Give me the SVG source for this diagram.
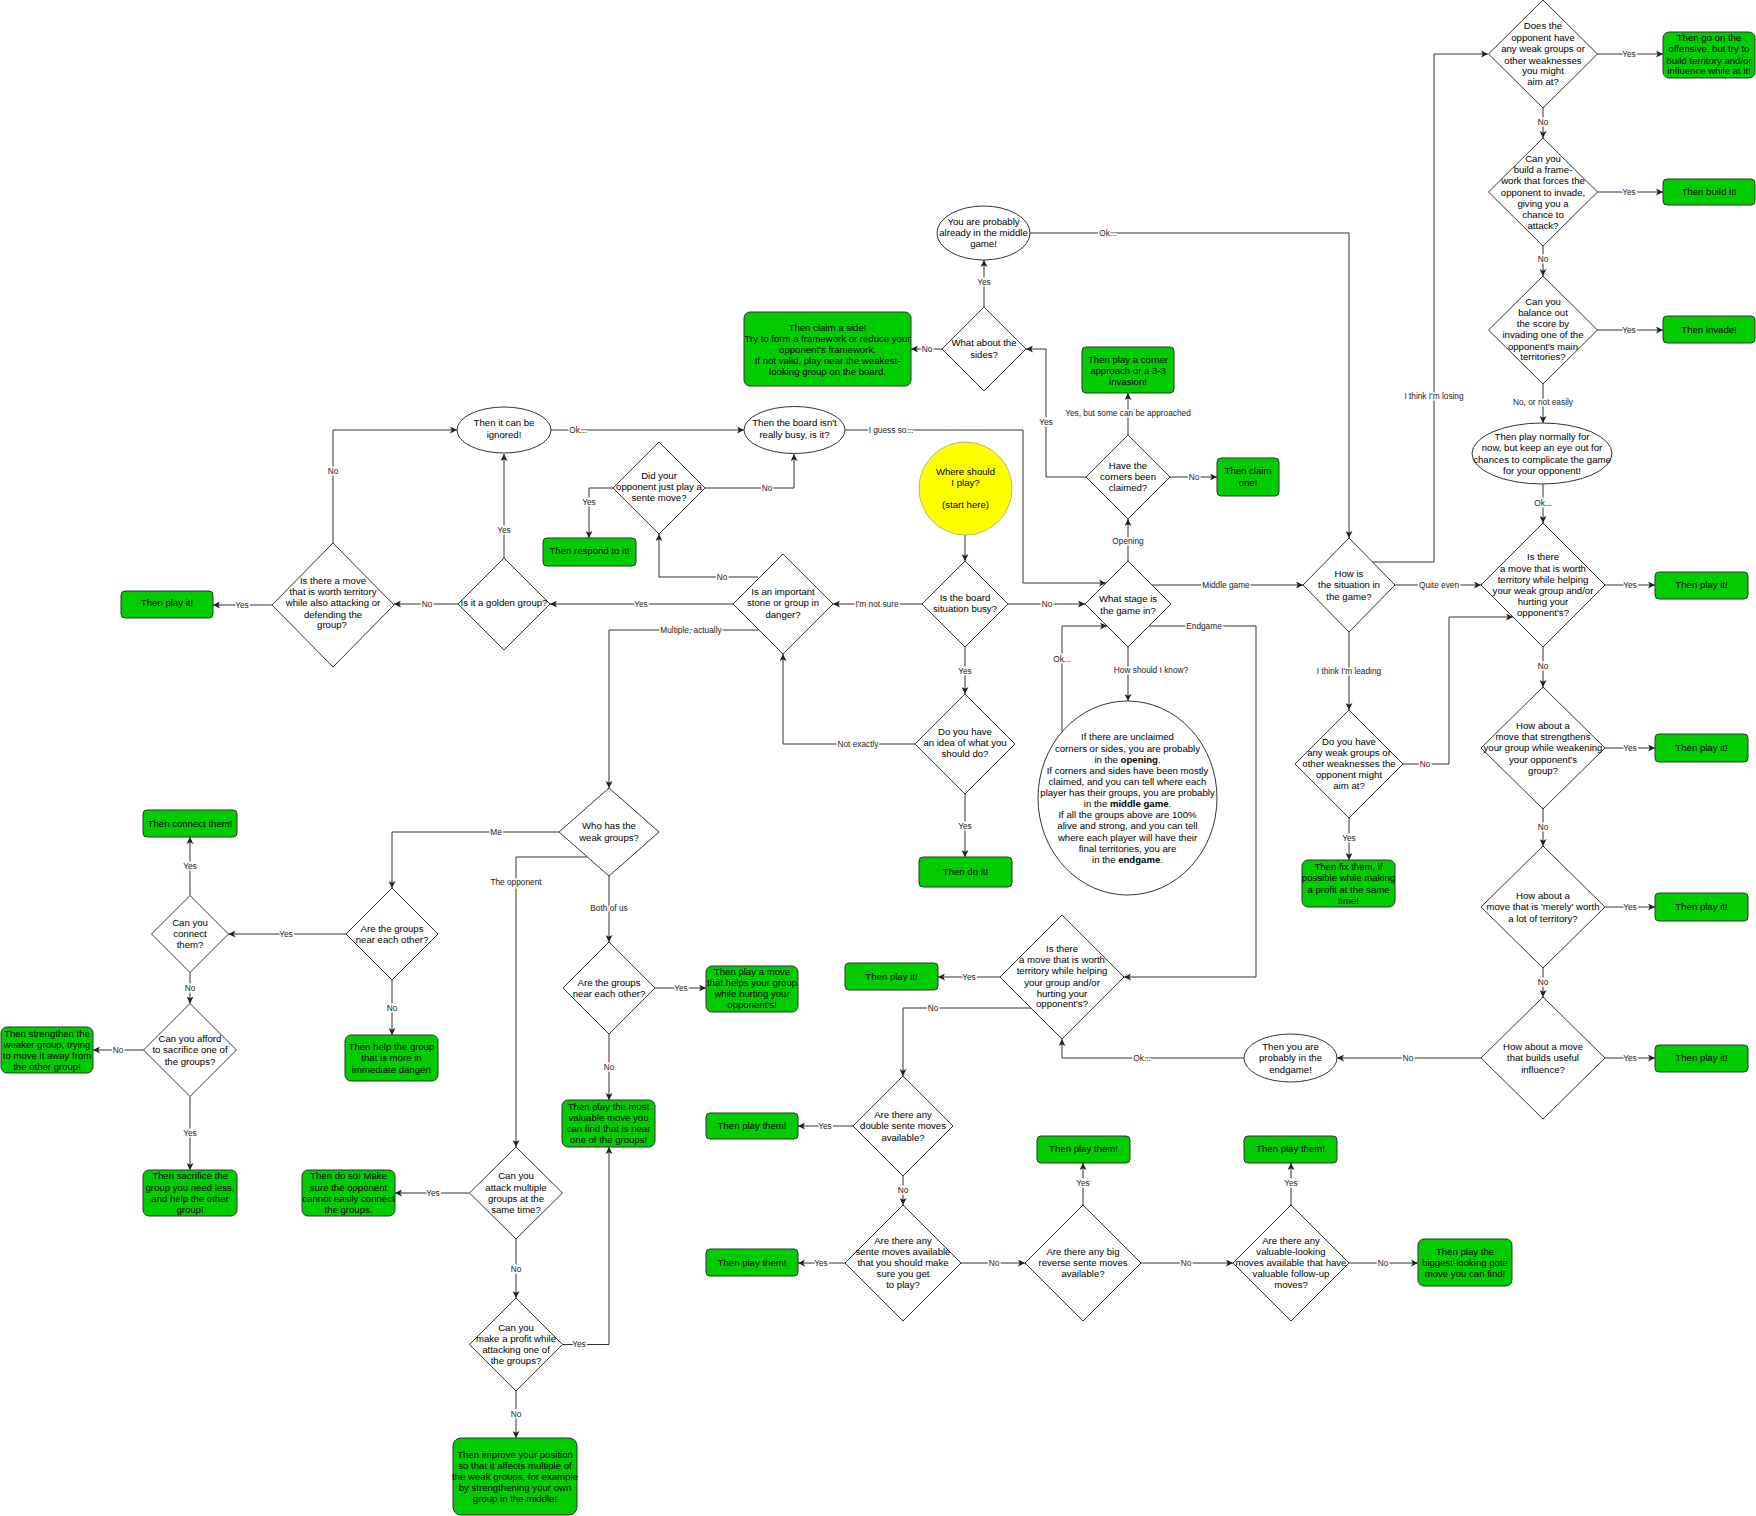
<svg xmlns="http://www.w3.org/2000/svg" width="1756" height="1516" viewBox="0 0 1756 1516">
<defs>
<marker id="a" viewBox="0 0 10 10" refX="10" refY="5" markerWidth="7" markerHeight="7" markerUnits="userSpaceOnUse" orient="auto"><path d="M0,0 L10,5 L0,10 L2.5,5 z" fill="#222"/></marker>
<style>
.d,.o{fill:#fff;stroke:#333;stroke-width:1}
.g{fill:#00cc00;stroke:#333;stroke-width:1}
.y{fill:#ffff00;stroke:#b8b870;stroke-width:1}
text{font-family:"Liberation Sans",Arial,Helvetica,sans-serif;text-anchor:middle}
.t{font-size:9.6px;fill:#000}
.c path{fill:none;stroke:#333;stroke-width:1;marker-end:url(#a)}
.c rect{fill:#fff}
.c text{font-size:8.3px;fill:#222}
</style>
</defs>
<rect width="1756" height="1516" fill="#fff"/>

<g class="c" id="connectors">
<path d="M922,604 H833"/><text x="877" y="607" style="paint-order:stroke;stroke:#fff;stroke-width:3px">I'm not sure</text>
<path d="M965,535 V561"/>
<path d="M1008,604 H1085"/><text x="1047" y="607" style="paint-order:stroke;stroke:#fff;stroke-width:3px">No</text>
<path d="M965,647 V694"/><text x="965" y="674" style="paint-order:stroke;stroke:#fff;stroke-width:3px">Yes</text>
<path d="M965,794 V857"/><text x="965" y="829" style="paint-order:stroke;stroke:#fff;stroke-width:3px">Yes</text>
<path d="M915,744 H783 V654"/><text x="858" y="747" style="paint-order:stroke;stroke:#fff;stroke-width:3px">Not exactly</text>
<path d="M733,604 H550"/><text x="641" y="607" style="paint-order:stroke;stroke:#fff;stroke-width:3px">Yes</text>
<path d="M758,577 H659 V534"/><text x="722" y="580" style="paint-order:stroke;stroke:#fff;stroke-width:3px">No</text>
<path d="M758,630 H609 V788"/><text x="691" y="633" style="paint-order:stroke;stroke:#fff;stroke-width:3px">Multiple, actually</text>
<path d="M504,558 V454"/><text x="504" y="533" style="paint-order:stroke;stroke:#fff;stroke-width:3px">Yes</text>
<path d="M458,604 H394"/><text x="427" y="607" style="paint-order:stroke;stroke:#fff;stroke-width:3px">No</text>
<path d="M333,543 V430 H457"/><text x="333" y="474" style="paint-order:stroke;stroke:#fff;stroke-width:3px">No</text>
<path d="M272,605 H213"/><text x="242" y="608" style="paint-order:stroke;stroke:#fff;stroke-width:3px">Yes</text>
<path d="M551,430 H744"/><text x="578" y="433" style="paint-order:stroke;stroke:#fff;stroke-width:3px">Ok...</text>
<path d="M705,488 H794 V454"/><text x="767" y="491" style="paint-order:stroke;stroke:#fff;stroke-width:3px">No</text>
<path d="M613,488 H589 V538"/><text x="589" y="505" style="paint-order:stroke;stroke:#fff;stroke-width:3px">Yes</text>
<path d="M845,430 H1023 V583 H1106"/><text x="891" y="433" style="paint-order:stroke;stroke:#fff;stroke-width:3px">I guess so...</text>
<path d="M1128,561 V519"/><text x="1128" y="544" style="paint-order:stroke;stroke:#fff;stroke-width:3px">Opening</text>
<path d="M1128,435 V393"/><text x="1128" y="416" style="paint-order:stroke;stroke:#fff;stroke-width:3px">Yes, but some can be approached</text>
<path d="M1170,477 H1217"/><text x="1194" y="480" style="paint-order:stroke;stroke:#fff;stroke-width:3px">No</text>
<path d="M1086,477 H1046 V349 H1026"/><text x="1046" y="425" style="paint-order:stroke;stroke:#fff;stroke-width:3px">Yes</text>
<path d="M942,349 H911"/><text x="927" y="352" style="paint-order:stroke;stroke:#fff;stroke-width:3px">No</text>
<path d="M984,307 V260"/><text x="984" y="285" style="paint-order:stroke;stroke:#fff;stroke-width:3px">Yes</text>
<path d="M1030,233 H1349 V538"/><text x="1108" y="236" style="paint-order:stroke;stroke:#fff;stroke-width:3px">Ok...</text>
<path d="M1152,585 H1303"/><text x="1226" y="588" style="paint-order:stroke;stroke:#fff;stroke-width:3px">Middle game</text>
<path d="M1149,626 H1256 V977 H1124"/><text x="1204" y="629" style="paint-order:stroke;stroke:#fff;stroke-width:3px">Endgame</text>
<path d="M1128,647 V701"/><text x="1151" y="673" style="paint-order:stroke;stroke:#fff;stroke-width:3px">How should I know?</text>
<path d="M1062,732 V626 H1107"/><text x="1062" y="662" style="paint-order:stroke;stroke:#fff;stroke-width:3px">Ok...</text>
<path d="M1372,562 H1434 V54 H1488"/><text x="1434" y="399" style="paint-order:stroke;stroke:#fff;stroke-width:3px">I think I'm losing</text>
<path d="M1395,585 H1481"/><text x="1439" y="588" style="paint-order:stroke;stroke:#fff;stroke-width:3px">Quite even</text>
<path d="M1349,632 V710"/><text x="1349" y="674" style="paint-order:stroke;stroke:#fff;stroke-width:3px">I think I'm leading</text>
<path d="M1403,764 H1449 V617 H1513"/><text x="1425" y="767" style="paint-order:stroke;stroke:#fff;stroke-width:3px">No</text>
<path d="M1349,818 V860"/><text x="1349" y="841" style="paint-order:stroke;stroke:#fff;stroke-width:3px">Yes</text>
<path d="M1597,54 H1663"/><text x="1629" y="57" style="paint-order:stroke;stroke:#fff;stroke-width:3px">Yes</text>
<path d="M1543,108 V138"/><text x="1543" y="125" style="paint-order:stroke;stroke:#fff;stroke-width:3px">No</text>
<path d="M1597,192 H1663"/><text x="1629" y="195" style="paint-order:stroke;stroke:#fff;stroke-width:3px">Yes</text>
<path d="M1543,246 V276"/><text x="1543" y="262" style="paint-order:stroke;stroke:#fff;stroke-width:3px">No</text>
<path d="M1597,330 H1663"/><text x="1629" y="333" style="paint-order:stroke;stroke:#fff;stroke-width:3px">Yes</text>
<path d="M1543,384 V423"/><text x="1543" y="405" style="paint-order:stroke;stroke:#fff;stroke-width:3px">No, or not easily</text>
<path d="M1543,484 V523"/><text x="1543" y="506" style="paint-order:stroke;stroke:#fff;stroke-width:3px">Ok...</text>
<path d="M1605,585 H1655"/><text x="1630" y="588" style="paint-order:stroke;stroke:#fff;stroke-width:3px">Yes</text>
<path d="M1543,647 V687"/><text x="1543" y="669" style="paint-order:stroke;stroke:#fff;stroke-width:3px">No</text>
<path d="M1605,748 H1655"/><text x="1630" y="751" style="paint-order:stroke;stroke:#fff;stroke-width:3px">Yes</text>
<path d="M1543,809 V846"/><text x="1543" y="830" style="paint-order:stroke;stroke:#fff;stroke-width:3px">No</text>
<path d="M1605,907 H1655"/><text x="1630" y="910" style="paint-order:stroke;stroke:#fff;stroke-width:3px">Yes</text>
<path d="M1543,968 V997"/><text x="1543" y="985" style="paint-order:stroke;stroke:#fff;stroke-width:3px">No</text>
<path d="M1605,1058 H1655"/><text x="1630" y="1061" style="paint-order:stroke;stroke:#fff;stroke-width:3px">Yes</text>
<path d="M1481,1058 H1337"/><text x="1408" y="1061" style="paint-order:stroke;stroke:#fff;stroke-width:3px">No</text>
<path d="M1244,1058 H1062 V1039"/><text x="1142" y="1061" style="paint-order:stroke;stroke:#fff;stroke-width:3px">Ok...</text>
<path d="M1000,977 H938"/><text x="969" y="980" style="paint-order:stroke;stroke:#fff;stroke-width:3px">Yes</text>
<path d="M1031,1008 H903 V1076"/><text x="933" y="1011" style="paint-order:stroke;stroke:#fff;stroke-width:3px">No</text>
<path d="M853,1126 H798"/><text x="825" y="1129" style="paint-order:stroke;stroke:#fff;stroke-width:3px">Yes</text>
<path d="M903,1176 V1205"/><text x="903" y="1193" style="paint-order:stroke;stroke:#fff;stroke-width:3px">No</text>
<path d="M845,1263 H798"/><text x="821" y="1266" style="paint-order:stroke;stroke:#fff;stroke-width:3px">Yes</text>
<path d="M961,1263 H1025"/><text x="994" y="1266" style="paint-order:stroke;stroke:#fff;stroke-width:3px">No</text>
<path d="M1083,1205 V1163"/><text x="1083" y="1186" style="paint-order:stroke;stroke:#fff;stroke-width:3px">Yes</text>
<path d="M1141,1263 H1233"/><text x="1186" y="1266" style="paint-order:stroke;stroke:#fff;stroke-width:3px">No</text>
<path d="M1291,1205 V1163"/><text x="1291" y="1186" style="paint-order:stroke;stroke:#fff;stroke-width:3px">Yes</text>
<path d="M1349,1263 H1418"/><text x="1383" y="1266" style="paint-order:stroke;stroke:#fff;stroke-width:3px">No</text>
<path d="M559,832 H392 V888"/><text x="496" y="835" style="paint-order:stroke;stroke:#fff;stroke-width:3px">Me</text>
<path d="M587,857 H516 V1147"/><text x="516" y="885" style="paint-order:stroke;stroke:#fff;stroke-width:3px">The opponent</text>
<path d="M609,876 V942"/><text x="609" y="911" style="paint-order:stroke;stroke:#fff;stroke-width:3px">Both of us</text>
<path d="M655,988 H706"/><text x="681" y="991" style="paint-order:stroke;stroke:#fff;stroke-width:3px">Yes</text>
<path d="M609,1034 V1100"/><text x="609" y="1070" style="paint-order:stroke;stroke:#fff;stroke-width:3px">No</text>
<path d="M346,934 H228.5"/><text x="286" y="937" style="paint-order:stroke;stroke:#fff;stroke-width:3px">Yes</text>
<path d="M392,980 V1035"/><text x="392" y="1011" style="paint-order:stroke;stroke:#fff;stroke-width:3px">No</text>
<path d="M190,895.5 V837"/><text x="190" y="869" style="paint-order:stroke;stroke:#fff;stroke-width:3px">Yes</text>
<path d="M190,972.5 V1003.5"/><text x="190" y="991" style="paint-order:stroke;stroke:#fff;stroke-width:3px">No</text>
<path d="M143.5,1050 H93"/><text x="118" y="1053" style="paint-order:stroke;stroke:#fff;stroke-width:3px">No</text>
<path d="M190,1096.5 V1170"/><text x="190" y="1136" style="paint-order:stroke;stroke:#fff;stroke-width:3px">Yes</text>
<path d="M469.5,1193 H395"/><text x="433" y="1196" style="paint-order:stroke;stroke:#fff;stroke-width:3px">Yes</text>
<path d="M516,1239 V1298"/><text x="516" y="1272" style="paint-order:stroke;stroke:#fff;stroke-width:3px">No</text>
<path d="M562.5,1344.5 H609 V1147"/><text x="579" y="1347" style="paint-order:stroke;stroke:#fff;stroke-width:3px">Yes</text>
<path d="M516,1391 V1438"/><text x="516" y="1417" style="paint-order:stroke;stroke:#fff;stroke-width:3px">No</text>
</g>

<g id="start"><circle class="y" cx="965.5" cy="488.5" r="46.5"/><text class="t"><tspan x="965.5" y="475">Where should</tspan><tspan x="965.5" y="486.3">I play?</tspan><tspan x="965.5" y="508.3">(start here)</tspan></text></g>

<g id="busy"><polygon class="d" points="965,561 1008,604 965,647 922,604"/><text class="t"><tspan x="965" y="600.6">Is the board</tspan><tspan x="965" y="612.3">situation busy?</tspan></text></g>
<g id="stage"><polygon class="d" points="1128,561 1171,604 1128,647 1085,604"/><text class="t"><tspan x="1128" y="602.3">What stage is</tspan><tspan x="1128" y="614">the game in?</tspan></text></g>
<g id="important"><polygon class="d" points="783,554 833,604 783,654 733,604"/><text class="t"><tspan x="783" y="595.3">Is an important</tspan><tspan x="783" y="606.3">stone or group in</tspan><tspan x="783" y="617.6">danger?</tspan></text></g>
<g id="golden"><polygon class="d" points="504,558 550,604 504,650 458,604"/><text class="t"><tspan x="504" y="606.3">Is it a golden group?</tspan></text></g>
<g id="territory"><polygon class="d" points="333,543 394,605 333,667 272,605"/><text class="t"><tspan x="333" y="584.3">Is there a move</tspan><tspan x="333" y="595.3">that is worth territory</tspan><tspan x="333" y="606.3">while also attacking or</tspan><tspan x="333" y="617.6">defending the</tspan><tspan x="332" y="628.3">group?</tspan></text></g>
<g id="playit1"><rect class="g" x="121" y="591" width="92" height="27" rx="4"/><text class="t"><tspan x="167" y="606">Then play it!</tspan></text></g>
<g id="ignored"><ellipse class="o" cx="504" cy="430" rx="47" ry="23"/><text class="t"><tspan x="504" y="426">Then it can be</tspan><tspan x="504" y="438">ignored!</tspan></text></g>
<g id="notbusy"><ellipse class="o" cx="794.5" cy="430" rx="50.5" ry="23.5"/><text class="t"><tspan x="794.5" y="426">Then the board isn't</tspan><tspan x="794.5" y="438">really busy, is it?</tspan></text></g>
<g id="sente"><polygon class="d" points="659,442 705,488 659,534 613,488"/><text class="t"><tspan x="659" y="479">Did your</tspan><tspan x="659" y="490">opponent just play a</tspan><tspan x="659" y="501">sente move?</tspan></text></g>
<g id="respond"><rect class="g" x="543" y="538" width="93" height="28" rx="4"/><text class="t"><tspan x="589.5" y="554">Then respond to it!</tspan></text></g>
<g id="claimside"><rect class="g" x="744" y="312" width="167" height="74" rx="6"/><text class="t"><tspan x="827.5" y="330.5">Then claim a side!</tspan><tspan x="827.5" y="341.5">Try to form a framework or reduce your</tspan><tspan x="827.5" y="352.5">opponent's framework.</tspan><tspan x="827.5" y="363.5">If not valid, play near the weakest-</tspan><tspan x="827.5" y="374.5">looking group on the board.</tspan></text></g>
<g id="sides"><polygon class="d" points="984,307 1026,349 984,391 942,349"/><text class="t"><tspan x="984" y="346.3">What about the</tspan><tspan x="984" y="358">sides?</tspan></text></g>
<g id="middle"><ellipse class="o" cx="983.5" cy="233" rx="46.5" ry="27"/><text class="t"><tspan x="983.5" y="224.6">You are probably</tspan><tspan x="983.5" y="235.6">already in the middle</tspan><tspan x="983.5" y="247">game!</tspan></text></g>
<g id="corners"><polygon class="d" points="1128,435 1170,477 1128,519 1086,477"/><text class="t"><tspan x="1128" y="468.6">Have the</tspan><tspan x="1128" y="480">corners been</tspan><tspan x="1128" y="491.3">claimed?</tspan></text></g>
<g id="approach"><rect class="g" x="1082" y="347" width="92" height="46" rx="4"/><text class="t"><tspan x="1128" y="362.6">Then play a corner</tspan><tspan x="1128" y="373.6">approach or a 3-3</tspan><tspan x="1128" y="385">invasion!</tspan></text></g>
<g id="claimone"><rect class="g" x="1217" y="458" width="62" height="38" rx="4"/><text class="t"><tspan x="1248" y="474.3">Then claim</tspan><tspan x="1248" y="485.6">one!</tspan></text></g>
<g id="idea"><polygon class="d" points="965,694 1015,744 965,794 915,744"/><text class="t"><tspan x="965" y="734.6">Do you have</tspan><tspan x="965" y="745.6">an idea of what you</tspan><tspan x="965" y="757">should do?</tspan></text></g>
<g id="doit"><rect class="g" x="919" y="857" width="93" height="30" rx="4"/><text class="t"><tspan x="965.5" y="875">Then do it!</tspan></text></g>
<g id="howknow"><ellipse class="o" cx="1127.5" cy="798" rx="89.5" ry="97"/><text class="t"><tspan x="1127.5" y="740">If there are unclaimed</tspan><tspan x="1127.5" y="751.6">corners or sides, you are probably</tspan><tspan x="1127.5" y="762.6">in the <tspan font-weight="bold">opening</tspan>.</tspan><tspan x="1127.5" y="773.6">If corners and sides have been mostly</tspan><tspan x="1127.5" y="785">claimed, and you can tell where each</tspan><tspan x="1127.5" y="796">player has their groups, you are probably</tspan><tspan x="1127.5" y="807.3">in the <tspan font-weight="bold">middle game</tspan>.</tspan><tspan x="1127.5" y="818.3">If all the groups above are 100%</tspan><tspan x="1127.5" y="829.3">alive and strong, and you can tell</tspan><tspan x="1127.5" y="840.6">where each player will have their</tspan><tspan x="1127.5" y="851.6">final territories, you are</tspan><tspan x="1127.5" y="862.6">in the <tspan font-weight="bold">endgame</tspan>.</tspan></text></g>

<g id="situation"><polygon class="d" points="1349,538 1395,585 1349,632 1303,585"/><text class="t"><tspan x="1349" y="577.3">How is</tspan><tspan x="1349" y="588.3">the situation in</tspan><tspan x="1349" y="599.6">the game?</tspan></text></g>
<g id="leading"><polygon class="d" points="1349,710 1403,764 1349,818 1295,764"/><text class="t"><tspan x="1349" y="744.6">Do you have</tspan><tspan x="1349" y="755.6">any weak groups or</tspan><tspan x="1349" y="766.6">other weaknesses the</tspan><tspan x="1349" y="778">opponent might</tspan><tspan x="1349" y="789">aim at?</tspan></text></g>
<g id="fix"><rect class="g" x="1302" y="860" width="93" height="47" rx="6"/><text class="t"><tspan x="1348.5" y="870">Then fix them, if</tspan><tspan x="1348.5" y="881">possible while making</tspan><tspan x="1348.5" y="892.6">a profit at the same</tspan><tspan x="1348.5" y="903.6">time!</tspan></text></g>
<g id="does"><polygon class="d" points="1543,0 1597.5,54 1543,108 1488.5,54"/><text class="t"><tspan x="1543" y="29.3">Does the</tspan><tspan x="1543" y="41">opponent have</tspan><tspan x="1543" y="52">any weak groups or</tspan><tspan x="1543" y="63.6">other weaknesses</tspan><tspan x="1543" y="74.3">you might</tspan><tspan x="1543" y="85.3">aim at?</tspan></text></g>
<g id="offensive"><rect class="g" x="1663" y="32" width="92" height="46" rx="6"/><text class="t"><tspan x="1709" y="41">Then go on the</tspan><tspan x="1709" y="52">offensive, but try to</tspan><tspan x="1709" y="63.6">build territory and/or</tspan><tspan x="1709" y="74.3">influence while at it!</tspan></text></g>
<g id="framework"><polygon class="d" points="1543,138 1597.5,192 1543,246 1488.5,192"/><text class="t"><tspan x="1543" y="162">Can you</tspan><tspan x="1543" y="173.3">build a frame-</tspan><tspan x="1543" y="184.3">work that forces the</tspan><tspan x="1543" y="195.6">opponent to invade,</tspan><tspan x="1543" y="206.6">giving you a</tspan><tspan x="1543" y="217.6">chance to</tspan><tspan x="1543" y="228.6">attack?</tspan></text></g>
<g id="build"><rect class="g" x="1663" y="179" width="92" height="26" rx="4"/><text class="t"><tspan x="1709" y="195.3">Then build it!</tspan></text></g>
<g id="balance"><polygon class="d" points="1543,276 1597.5,330 1543,384 1488.5,330"/><text class="t"><tspan x="1543" y="304.6">Can you</tspan><tspan x="1543" y="316">balance out</tspan><tspan x="1543" y="327">the score by</tspan><tspan x="1543" y="338.3">invading one of the</tspan><tspan x="1543" y="349.6">opponent's main</tspan><tspan x="1543" y="360.3">territories?</tspan></text></g>
<g id="invade"><rect class="g" x="1663" y="316" width="92" height="27" rx="4"/><text class="t"><tspan x="1709" y="332.6">Then invade!</tspan></text></g>
<g id="normal"><ellipse class="o" cx="1542" cy="453.5" rx="70" ry="30.5"/><text class="t"><tspan x="1542" y="440">Then play normally for</tspan><tspan x="1542" y="451">now, but keep an eye out for</tspan><tspan x="1542" y="462.6">chances to complicate the game</tspan><tspan x="1542" y="473.6">for your opponent!</tspan></text></g>
<g id="worthR"><polygon class="d" points="1543,523 1605,585 1543,647 1481,585"/><text class="t"><tspan x="1543" y="560.3">Is there</tspan><tspan x="1543" y="571.6">a move that is worth</tspan><tspan x="1543" y="583">territory while helping</tspan><tspan x="1543" y="594.3">your weak group and/or</tspan><tspan x="1543" y="605.3">hurting your</tspan><tspan x="1543" y="616">opponent's?</tspan></text></g>
<g id="playitR1"><rect class="g" x="1655" y="572" width="93" height="27" rx="4"/><text class="t"><tspan x="1701.5" y="588.3">Then play it!</tspan></text></g>
<g id="strengthen"><polygon class="d" points="1543,687 1605,748 1543,809 1481,748"/><text class="t"><tspan x="1543" y="729.3">How about a</tspan><tspan x="1543" y="740">move that strengthens</tspan><tspan x="1543" y="751">your group while weakening</tspan><tspan x="1543" y="762.6">your opponent's</tspan><tspan x="1543" y="773.6">group?</tspan></text></g>
<g id="playitR2"><rect class="g" x="1655" y="734" width="93" height="28" rx="4"/><text class="t"><tspan x="1701.5" y="751">Then play it!</tspan></text></g>
<g id="merely"><polygon class="d" points="1543,846 1605,907 1543,968 1481,907"/><text class="t"><tspan x="1543" y="899">How about a</tspan><tspan x="1543" y="910">move that is 'merely' worth</tspan><tspan x="1543" y="921.6">a lot of territory?</tspan></text></g>
<g id="playitR3"><rect class="g" x="1655" y="893" width="93" height="28" rx="4"/><text class="t"><tspan x="1701.5" y="910">Then play it!</tspan></text></g>
<g id="influence"><polygon class="d" points="1543,997 1605,1058 1543,1119 1481,1058"/><text class="t"><tspan x="1543" y="1050">How about a move</tspan><tspan x="1543" y="1061">that builds useful</tspan><tspan x="1543" y="1072.6">influence?</tspan></text></g>
<g id="playitR4"><rect class="g" x="1655" y="1045" width="93" height="27" rx="4"/><text class="t"><tspan x="1701.5" y="1061">Then play it!</tspan></text></g>
<g id="endgameEll"><ellipse class="o" cx="1290.5" cy="1058" rx="46.5" ry="24"/><text class="t"><tspan x="1290.5" y="1050">Then you are</tspan><tspan x="1290.5" y="1061">probably in the</tspan><tspan x="1290.5" y="1072.6">endgame!</tspan></text></g>
<g id="worthE"><polygon class="d" points="1062,915 1124,977 1062,1039 1000,977"/><text class="t"><tspan x="1062" y="951.6">Is there</tspan><tspan x="1062" y="963.3">a move that is worth</tspan><tspan x="1062" y="974.3">territory while helping</tspan><tspan x="1062" y="985.6">your group and/or</tspan><tspan x="1062" y="996.6">hurting your</tspan><tspan x="1062" y="1007.3">opponent's?</tspan></text></g>
<g id="playitE"><rect class="g" x="845" y="963" width="93" height="27" rx="4"/><text class="t"><tspan x="891.5" y="980">Then play it!</tspan></text></g>
<g id="double"><polygon class="d" points="903,1076 953,1126 903,1176 853,1126"/><text class="t"><tspan x="903" y="1118.3">Are there any</tspan><tspan x="903" y="1129.3">double sente moves</tspan><tspan x="903" y="1140.6">available?</tspan></text></g>
<g id="themA"><rect class="g" x="706" y="1113" width="92" height="26" rx="4"/><text class="t"><tspan x="752" y="1129.3">Then play them!</tspan></text></g>
<g id="senteAvail"><polygon class="d" points="903,1205 961,1263 903,1321 845,1263"/><text class="t"><tspan x="903" y="1244">Are there any</tspan><tspan x="903" y="1254.6">sente moves available</tspan><tspan x="903" y="1265.6">that you should make</tspan><tspan x="903" y="1277.3">sure you get</tspan><tspan x="903" y="1288.3">to play?</tspan></text></g>
<g id="themB"><rect class="g" x="706" y="1249" width="92" height="27" rx="4"/><text class="t"><tspan x="752" y="1265.6">Then play them!</tspan></text></g>
<g id="reverse"><polygon class="d" points="1083,1205 1141,1263 1083,1321 1025,1263"/><text class="t"><tspan x="1083" y="1254.6">Are there any big</tspan><tspan x="1083" y="1265.6">reverse sente moves</tspan><tspan x="1083" y="1277.3">available?</tspan></text></g>
<g id="themC"><rect class="g" x="1037" y="1136" width="93" height="27" rx="4"/><text class="t"><tspan x="1083.5" y="1152.3">Then play them!</tspan></text></g>
<g id="valuable"><polygon class="d" points="1291,1205 1349,1263 1291,1321 1233,1263"/><text class="t"><tspan x="1291" y="1244">Are there any</tspan><tspan x="1291" y="1254.6">valuable-looking</tspan><tspan x="1291" y="1265.6">moves available that have</tspan><tspan x="1291" y="1277.3">valuable follow-up</tspan><tspan x="1291" y="1288.3">moves?</tspan></text></g>
<g id="themD"><rect class="g" x="1244" y="1136" width="93" height="27" rx="4"/><text class="t"><tspan x="1290.5" y="1152.3">Then play them!</tspan></text></g>
<g id="gote"><rect class="g" x="1418" y="1239" width="94" height="47" rx="6"/><text class="t"><tspan x="1465" y="1254.6">Then play the</tspan><tspan x="1465" y="1265.6">biggest-looking gote</tspan><tspan x="1465" y="1277.3">move you can find!</tspan></text></g>

<g id="who"><polygon class="d" points="609,788 659,832 609,876 559,832"/><text class="t"><tspan x="609" y="829">Who has the</tspan><tspan x="609" y="840.6">weak groups?</tspan></text></g>
<g id="near1"><polygon class="d" points="392,888 438,934 392,980 346,934"/><text class="t"><tspan x="392" y="931.6">Are the groups</tspan><tspan x="392" y="943.3">near each other?</tspan></text></g>
<g id="near2"><polygon class="d" points="609,942 655,988 609,1034 563,988"/><text class="t"><tspan x="609" y="985.6">Are the groups</tspan><tspan x="609" y="997.3">near each other?</tspan></text></g>
<g id="helps"><rect class="g" x="706" y="966" width="92" height="46" rx="6"/><text class="t"><tspan x="752" y="975">Then play a move</tspan><tspan x="752" y="986">that helps your group</tspan><tspan x="752" y="997.3">while hurting your</tspan><tspan x="752" y="1008.3">opponent's!</tspan></text></g>
<g id="mostValuable"><rect class="g" x="562" y="1100" width="93" height="47" rx="6"/><text class="t"><tspan x="608.5" y="1110">Then play the most</tspan><tspan x="608.5" y="1121">valuable move you</tspan><tspan x="608.5" y="1132.3">can find that is near</tspan><tspan x="608.5" y="1143.3">one of the groups!</tspan></text></g>
<g id="connectBox"><rect class="g" x="143" y="810" width="94" height="27" rx="4"/><text class="t"><tspan x="190" y="826.6">Then connect them!</tspan></text></g>
<g id="connect"><polygon class="d" points="190,895.5 228.5,934 190,972.5 151.5,934"/><text class="t"><tspan x="190" y="926">Can you</tspan><tspan x="190" y="937.3">connect</tspan><tspan x="190" y="948.3">them?</tspan></text></g>
<g id="helpGroup"><rect class="g" x="345" y="1035" width="93" height="46" rx="6"/><text class="t"><tspan x="391.5" y="1050">Then help the group</tspan><tspan x="391.5" y="1061">that is more in</tspan><tspan x="391.5" y="1072.6">immediate danger!</tspan></text></g>
<g id="afford"><polygon class="d" points="190,1003.5 236.5,1050 190,1096.5 143.5,1050"/><text class="t"><tspan x="190" y="1042.3">Can you afford</tspan><tspan x="190" y="1053.3">to sacrifice one of</tspan><tspan x="190" y="1065">the groups?</tspan></text></g>
<g id="strengthenBox"><rect class="g" x="1" y="1027" width="92" height="46" rx="6"/><text class="t"><tspan x="47" y="1036.6">Then strengthen the</tspan><tspan x="47" y="1047.6">weaker group, trying</tspan><tspan x="47" y="1059.3">to move it away from</tspan><tspan x="47" y="1070.3">the other group!</tspan></text></g>
<g id="sacrifice"><rect class="g" x="143" y="1170" width="94" height="46" rx="6"/><text class="t"><tspan x="190" y="1179.3">Then sacrifice the</tspan><tspan x="190" y="1190.6">group you need less,</tspan><tspan x="190" y="1202">and help the other</tspan><tspan x="190" y="1213.3">group!</tspan></text></g>
<g id="doSo"><rect class="g" x="302" y="1170" width="93" height="46" rx="6"/><text class="t"><tspan x="348.5" y="1179.3">Then do so! Make</tspan><tspan x="348.5" y="1190.6">sure the opponent</tspan><tspan x="348.5" y="1202">cannot easily connect</tspan><tspan x="348.5" y="1213.3">the groups.</tspan></text></g>
<g id="attack"><polygon class="d" points="516,1147 562.5,1193 516,1239 469.5,1193"/><text class="t"><tspan x="516" y="1179.3">Can you</tspan><tspan x="516" y="1190.6">attack multiple</tspan><tspan x="516" y="1202">groups at the</tspan><tspan x="516" y="1213.3">same time?</tspan></text></g>
<g id="profit"><polygon class="d" points="516,1298 562.5,1344.5 516,1391 469.5,1344.5"/><text class="t"><tspan x="516" y="1330.6">Can you</tspan><tspan x="516" y="1341.6">make a profit while</tspan><tspan x="516" y="1353.3">attacking one of</tspan><tspan x="516" y="1364.3">the groups?</tspan></text></g>
<g id="improve"><rect class="g" x="453" y="1438" width="124" height="77" rx="8"/><text class="t"><tspan x="515" y="1457.6">Then improve your position</tspan><tspan x="515" y="1468.6">so that it affects multiple of</tspan><tspan x="515" y="1479.6">the weak groups, for example</tspan><tspan x="515" y="1491">by strengthening your own</tspan><tspan x="515" y="1502">group in the middle!</tspan></text></g>
</svg>
